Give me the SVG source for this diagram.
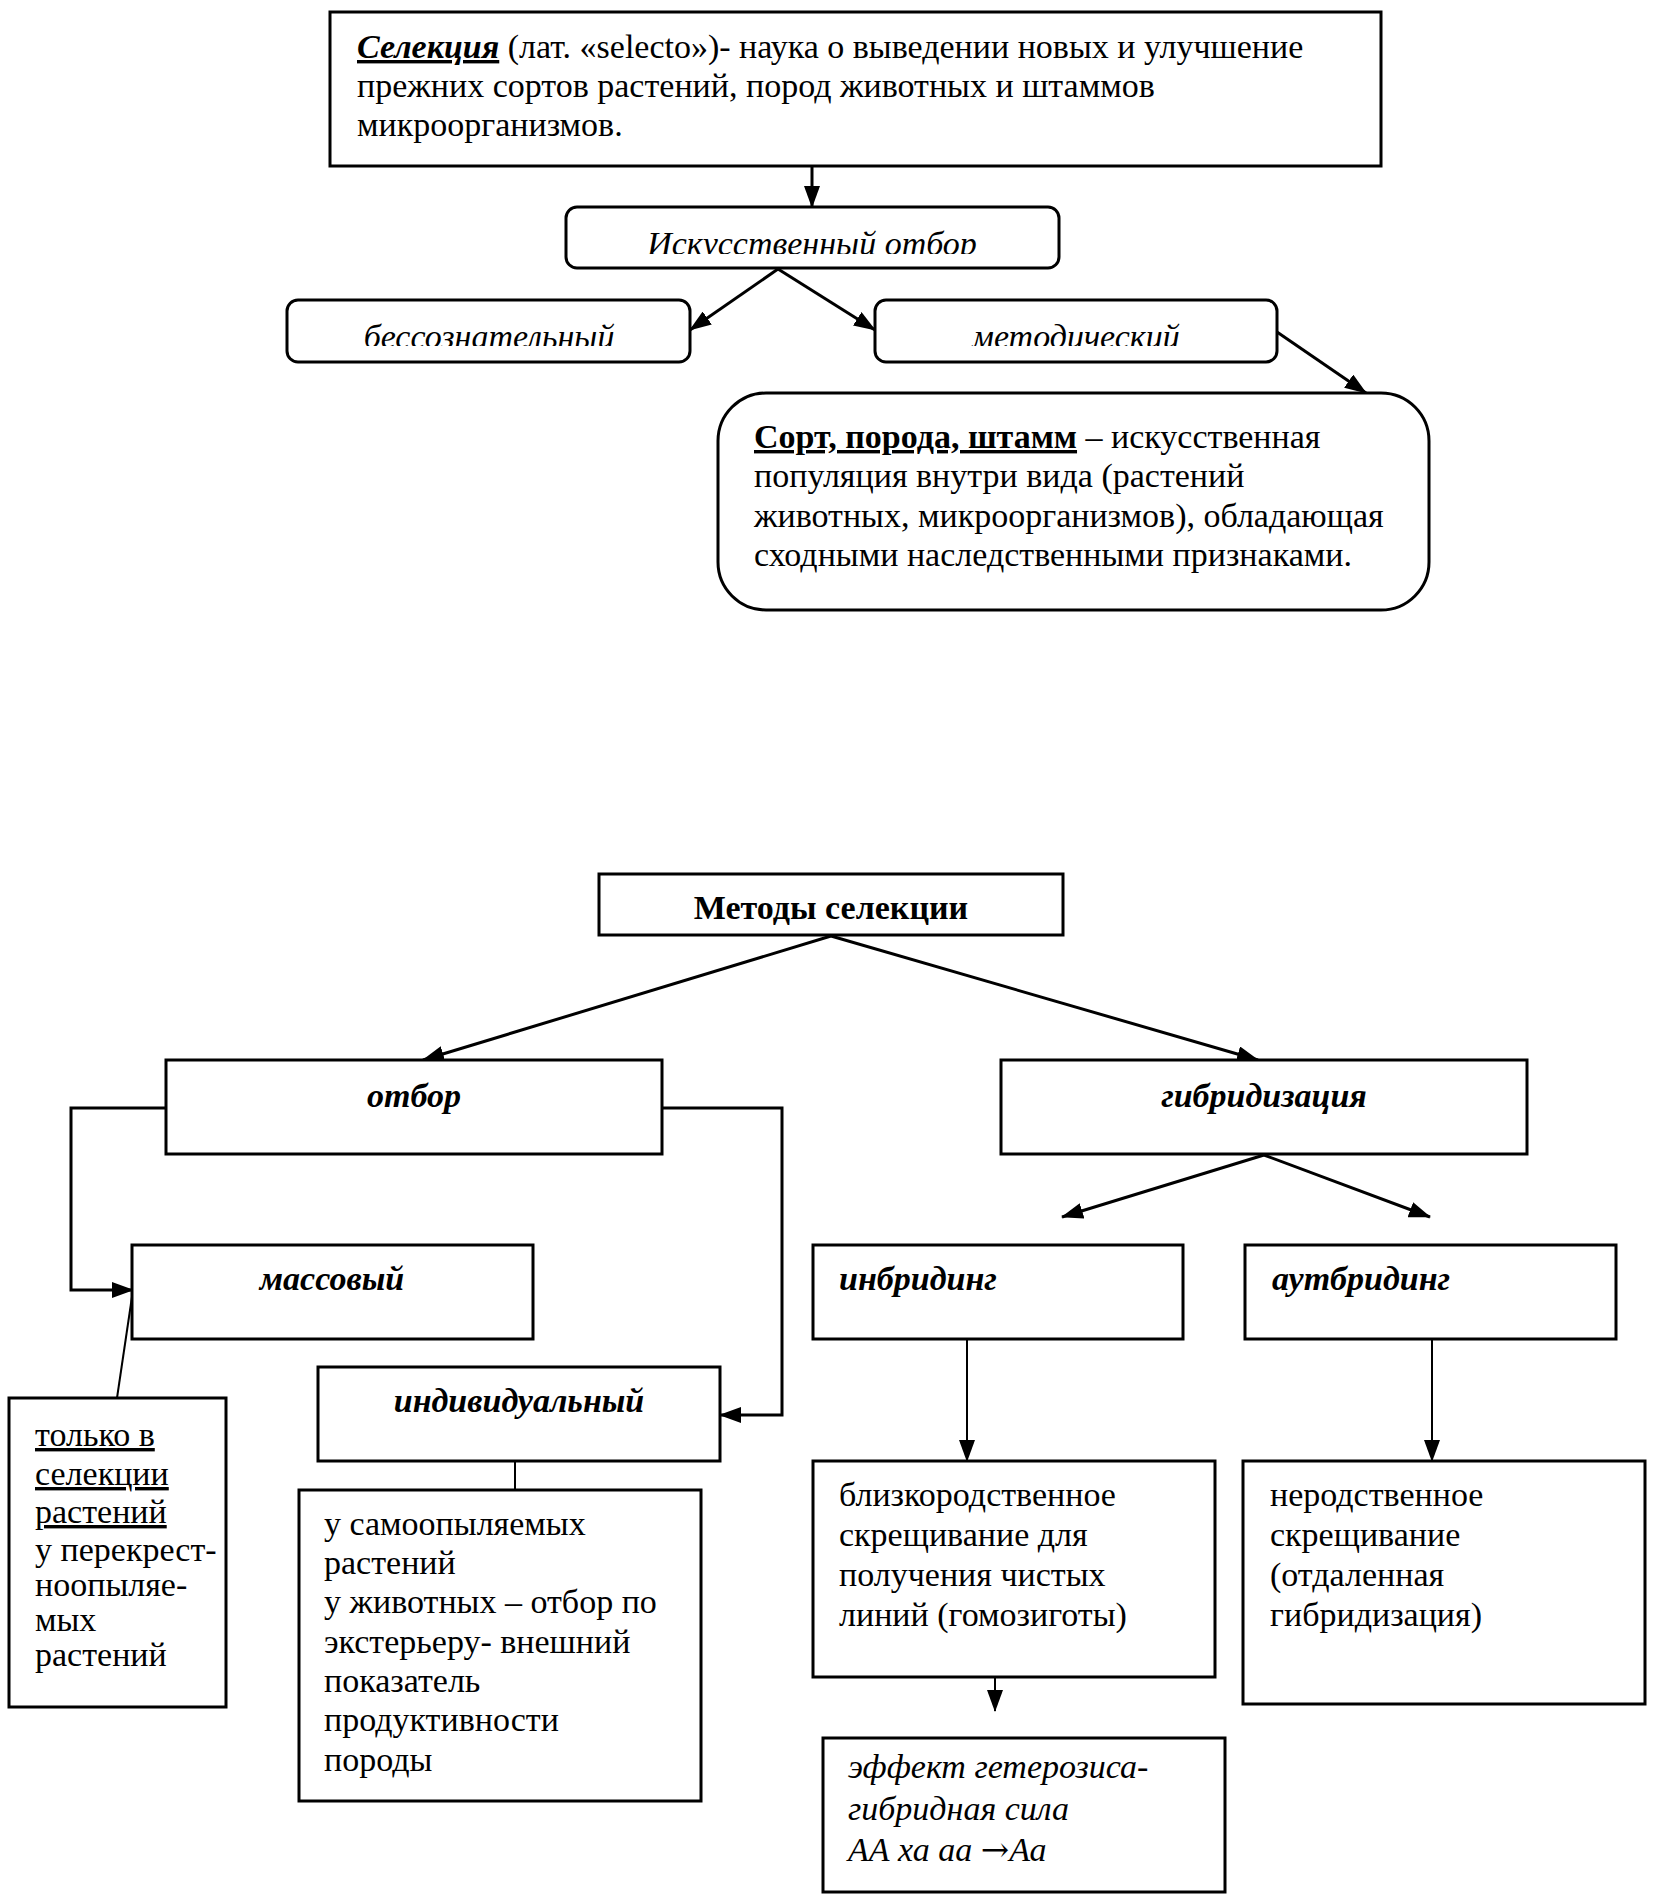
<svg xmlns="http://www.w3.org/2000/svg" width="1654" height="1903" viewBox="0 0 1654 1903">
<style>
.box{fill:#fff;stroke:#000;stroke-width:3}
.t{font-family:"Liberation Serif","Times New Roman",serif;font-size:34px;fill:#000}
.i{font-style:italic}
.b{font-weight:bold}
.c{text-anchor:middle}
.u{text-decoration:underline}
.arr{font-family:"DejaVu Serif","Liberation Serif",serif;font-style:normal}
.ln{stroke:#000;stroke-width:3;fill:none}
.thin{stroke:#000;stroke-width:2;fill:none}
</style>
<defs>
<marker id="ah" markerWidth="22" markerHeight="16" refX="21" refY="8" orient="auto" markerUnits="userSpaceOnUse">
<path d="M0,0 L22,8 L0,16 z" fill="#000"/>
</marker>
<clipPath id="cpA"><rect x="566" y="207" width="493" height="47"/></clipPath>
<clipPath id="cpB"><rect x="287" y="300" width="403" height="46"/></clipPath>
<clipPath id="cpC"><rect x="875" y="300" width="402" height="46"/></clipPath>
</defs>
<rect width="1654" height="1903" fill="#fff"/>

<g id="connectors">
<line class="ln" x1="812" y1="166" x2="812" y2="207" marker-end="url(#ah)"/>
<line class="ln" x1="778" y1="269" x2="690" y2="330" marker-end="url(#ah)"/>
<line class="ln" x1="778" y1="269" x2="875" y2="330" marker-end="url(#ah)"/>
<line class="ln" x1="1277" y1="332" x2="1366" y2="393" marker-end="url(#ah)"/>
<line class="ln" x1="831" y1="936" x2="423" y2="1060" marker-end="url(#ah)"/>
<line class="ln" x1="831" y1="936" x2="1258" y2="1060" marker-end="url(#ah)"/>
<polyline class="ln" points="166,1108 71,1108 71,1290 133,1290" marker-end="url(#ah)"/>
<polyline class="ln" points="662,1108 782,1108 782,1415 720,1415" marker-end="url(#ah)"/>
<line class="thin" x1="133" y1="1290" x2="117" y2="1398"/>
<line class="thin" x1="515" y1="1425" x2="515" y2="1490"/>
<line class="ln" x1="1264" y1="1155" x2="1062" y2="1217" marker-end="url(#ah)"/>
<line class="ln" x1="1264" y1="1155" x2="1430" y2="1217" marker-end="url(#ah)"/>
<line class="thin" x1="967" y1="1339" x2="967" y2="1461" marker-end="url(#ah)"/>
<line class="thin" x1="1432" y1="1339" x2="1432" y2="1461" marker-end="url(#ah)"/>
<line class="thin" x1="995" y1="1645" x2="995" y2="1711" marker-end="url(#ah)"/>
</g>

<g id="selekcia">
<rect class="box" x="330" y="12" width="1051" height="154"/>
<text class="t" x="357" y="58"><tspan class="b i u">Селекция</tspan> (лат. «selecto»)- наука о выведении новых и улучшение</text>
<text class="t" x="357" y="97">прежних сортов растений, пород животных и штаммов</text>
<text class="t" x="357" y="136">микроорганизмов.</text>
</g>

<g id="iskusstvenny">
<rect class="box" x="566" y="207" width="493" height="61" rx="11"/>
<text class="t i c" x="812" y="255" clip-path="url(#cpA)">Искусственный отбор</text>
</g>

<g id="bessoznatelny">
<rect class="box" x="287" y="300" width="403" height="62" rx="11"/>
<text class="t i c" x="489" y="348" clip-path="url(#cpB)">бессознательный</text>
</g>

<g id="metodichesky">
<rect class="box" x="875" y="300" width="402" height="62" rx="11"/>
<text class="t i c" x="1076" y="348" clip-path="url(#cpC)">методический</text>
</g>

<g id="sort">
<rect class="box" x="718" y="393" width="711" height="217" rx="48"/>
<text class="t" x="754" y="448"><tspan class="b u">Сорт, порода, штамм</tspan> – искусственная</text>
<text class="t" x="754" y="487">популяция внутри вида (растений</text>
<text class="t" x="754" y="527">животных, микроорганизмов), обладающая</text>
<text class="t" x="754" y="566">сходными наследственными признаками.</text>
</g>

<g id="metody">
<rect class="box" x="599" y="874" width="464" height="61"/>
<text class="t b c" x="831" y="919">Методы селекции</text>
</g>

<g id="otbor">
<rect class="box" x="166" y="1060" width="496" height="94"/>
<text class="t b i c" x="414" y="1107">отбор</text>
</g>

<g id="gibridizacia">
<rect class="box" x="1001" y="1060" width="526" height="94"/>
<text class="t b i c" x="1264" y="1107">гибридизация</text>
</g>

<g id="massovy">
<rect class="box" x="132" y="1245" width="401" height="94"/>
<text class="t b i c" x="332" y="1290">массовый</text>
</g>

<g id="tolko">
<rect class="box" x="9" y="1398" width="217" height="309"/>
<text class="t u" x="35" y="1446">только в</text>
<text class="t u" x="35" y="1485">селекции</text>
<text class="t u" x="35" y="1523">растений</text>
<text class="t" x="35" y="1561">у перекрест-</text>
<text class="t" x="35" y="1596">ноопыляе-</text>
<text class="t" x="35" y="1631">мых</text>
<text class="t" x="35" y="1666">растений</text>
</g>

<g id="individualny">
<rect class="box" x="318" y="1367" width="402" height="94"/>
<text class="t b i c" x="519" y="1412">индивидуальный</text>
</g>

<g id="samoopylyaemyh">
<rect class="box" x="299" y="1490" width="402" height="311"/>
<text class="t" x="324" y="1535">у самоопыляемых</text>
<text class="t" x="324" y="1574">растений</text>
<text class="t" x="324" y="1613">у животных – отбор по</text>
<text class="t" x="324" y="1653">экстерьеру- внешний</text>
<text class="t" x="324" y="1692">показатель</text>
<text class="t" x="324" y="1731">продуктивности</text>
<text class="t" x="324" y="1771">породы</text>
</g>

<g id="inbriding">
<rect class="box" x="813" y="1245" width="370" height="94"/>
<text class="t b i" x="839" y="1290">инбридинг</text>
</g>

<g id="autbriding">
<rect class="box" x="1245" y="1245" width="371" height="94"/>
<text class="t b i" x="1272" y="1290">аутбридинг</text>
</g>

<g id="blizkorodstvennoe">
<rect class="box" x="813" y="1461" width="402" height="216"/>
<text class="t" x="839" y="1506">близкородственное</text>
<text class="t" x="839" y="1546">скрещивание для</text>
<text class="t" x="839" y="1586">получения чистых</text>
<text class="t" x="839" y="1626">линий (гомозиготы)</text>
</g>

<g id="nerodstvennoe">
<rect class="box" x="1243" y="1461" width="402" height="243"/>
<text class="t" x="1270" y="1506">неродственное</text>
<text class="t" x="1270" y="1546">скрещивание</text>
<text class="t" x="1270" y="1586">(отдаленная</text>
<text class="t" x="1270" y="1626">гибридизация)</text>
</g>

<g id="effekt">
<rect class="box" x="823" y="1738" width="402" height="154"/>
<text class="t i" x="848" y="1778">эффект гетерозиса-</text>
<text class="t i" x="848" y="1820">гибридная сила</text>
<text class="t i" x="848" y="1861">АА ха аа <tspan class="arr">→</tspan>Аа</text>
</g>
</svg>
